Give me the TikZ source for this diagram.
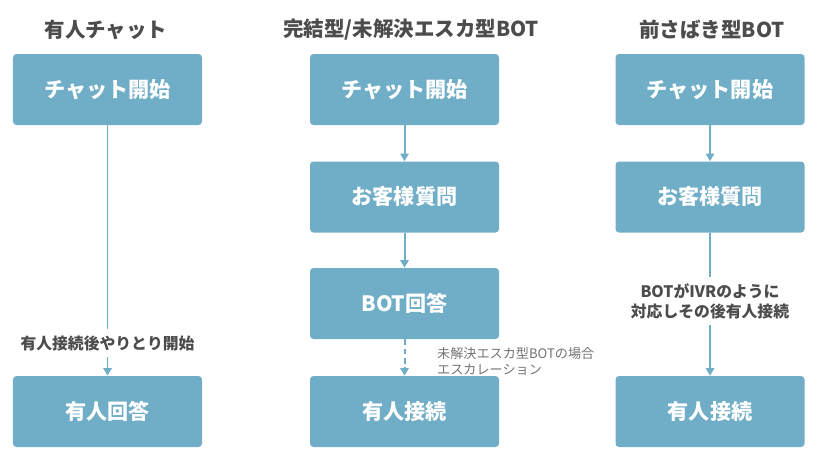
\documentclass[tikz,border=0pt]{standalone}
\usepackage{fontspec}
\setmainfont{Noto Sans CJK JP}
\usetikzlibrary{arrows.meta}

\definecolor{boxblue}{RGB}{112,174,200}
\definecolor{textgray}{RGB}{76,76,76}
\definecolor{notegray}{RGB}{115,115,115}

\tikzset{
  flowbox/.style={fill=boxblue, rounded corners=3pt, minimum width=5.67cm, minimum height=2.13cm,
    inner sep=0pt, text=white, font=\fontsize{18}{20}\selectfont\bfseries},
  coltitle/.style={text=textgray, font=\fontsize{17.5}{20}\selectfont\bfseries},
  flowline/.style={draw=boxblue, line width=1.7pt},
  flowarrow/.style={flowline, -{Triangle[length=6.5pt,width=7pt]}},
  midlabel/.style={text=textgray, align=center, inner xsep=2pt, inner ysep=5pt,
    font=\fontsize{13.5}{17}\selectfont\bfseries},
  notelabel/.style={text=notegray, align=left, anchor=west, inner sep=0pt,
    font=\fontsize{11.2}{13.6}\selectfont}
}

\begin{document}
\begin{tikzpicture}[x=0.03cm, y=-0.03cm]
  \useasboundingbox (0,0) rectangle (821,467);

  %	Titles
  \node[coltitle] (t1) at (106,30) {有人チャット};
  \node[coltitle] (t2) at (411,30) {完結型/未解決エスカ型BOT};
  \node[coltitle] (t3) at (712,30) {前さばき型BOT};

  %	Left column
  \node[flowbox] (c1a) at (107.5,89.5) {チャット開始};
  \node[flowbox] (c1d) at (107.5,411.5) {有人回答};
  \node[midlabel] (c1l) at (107.5,343) {有人接続後やりとり開始};
  \draw[flowline] (c1a) -- (c1l);
  \draw[flowarrow] (c1l) -- (c1d);

  %	Middle column
  \node[flowbox] (c2a) at (404.5,89.5) {チャット開始};
  \node[flowbox] (c2b) at (404.5,197) {お客様質問};
  \node[flowbox] (c2c) at (404.5,303.5) {BOT回答};
  \node[flowbox] (c2d) at (404.5,411.5) {有人接続};
  \draw[flowarrow] (c2a) -- (c2b);
  \draw[flowarrow] (c2b) -- (c2c);
  \draw[flowarrow, dash pattern=on 5pt off 3pt] (c2c) -- (c2d);
  \node[notelabel] (c2n) at (437,361) {未解決エスカ型BOTの場合\\エスカレーション};

  %	Right column
  \node[flowbox] (c3a) at (710,89.5) {チャット開始};
  \node[flowbox] (c3b) at (710,197) {お客様質問};
  \node[flowbox] (c3d) at (710,411.5) {有人接続};
  \node[midlabel] (c3l) at (710,301) {BOTがIVRのように\\対応しその後有人接続};
  \draw[flowarrow] (c3a) -- (c3b);
  \draw[flowline] (c3b) -- (c3l);
  \draw[flowarrow] (c3l) -- (c3d);
\end{tikzpicture}
\end{document}
